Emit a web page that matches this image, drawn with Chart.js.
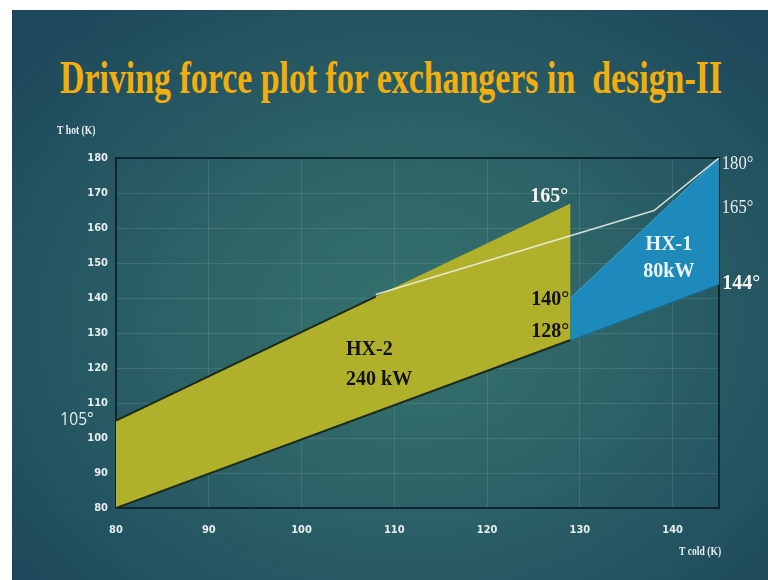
<!DOCTYPE html>
<html>
<head>
<title>Driving force plot for exchangers in design-II</title>
<script src="https://cdn.jsdelivr.net/npm/chart.js"></script>
<style>
  html, body { margin: 0; padding: 0; background: #fff; width: 768px; height: 580px; overflow: hidden; }
  #slide {
    position: absolute; left: 12px; top: 10px; width: 756px; height: 570px;
    background: radial-gradient(ellipse 68% 72% at 52% 55%, #36726d 0%, #2c6267 45%, #1d475b 100%);
  }
  #title {
    position: absolute; left: 60px; top: 55px; white-space: nowrap;
    font-family: 'Liberation Serif', serif; font-weight: bold; font-size: 46px; line-height: 1;
    color: #f2ae0c; transform-origin: left top;
  }
  #chartBox { position: absolute; left: 0; top: 0; width: 768px; height: 580px; }
</style>
</head>
<body>
<div id="slide"></div>
<div id="title">Driving force plot for exchangers in&nbsp; design-II</div>
<div id="chartBox"><canvas id="forcePlot"></canvas></div>

<script>
// values (T cold on x, T hot on y, in K)
const xTicks = [80, 90, 100, 110, 120, 130, 140];
const yTicks = [80, 90, 100, 110, 120, 130, 140, 150, 160, 170, 180];

const hx2Cold = [80, 129];
const hx2HotTop = [105, 167];
const hx2HotBottom = [80, 128];
// dark outline on the hot edge stops where the white line takes over
const hx2EdgeCold = [80, 108];
const hx2EdgeHot = [105, 140.4];

const hx1Cold = [129, 145];
const hx1HotTop = [140, 180];
const hx1HotBottom = [128, 144];

const lineCold = [108, 138, 145];
const lineHot = [141, 165, 180];

// fit the title to the width it takes on the slide
const titleEl = document.getElementById('title');
titleEl.style.transform = 'scaleX(' + (662 / titleEl.offsetWidth) + ')';

const pts = (xs, ys) => xs.map((x, i) => ({ x: x, y: ys[i] }));

const notes = [
  { text: '105°', x: 75.8, y: 105.2, font: '19px "Open Sans"', color: '#e4ecee', sx: 0.82 },
  { text: '165°', x: 126.7, y: 168.9, font: 'bold 20px "Liberation Serif"', color: '#f4f4f0' },
  { text: '140°', x: 126.8, y: 139.4, font: 'bold 20px "Liberation Serif"', color: '#111' },
  { text: '128°', x: 126.8, y: 130.3, font: 'bold 20px "Liberation Serif"', color: '#111' },
  { text: 'HX-2', x: 104.8, y: 125.1, font: 'bold 20px "Liberation Serif"', color: '#111', align: 'left' },
  { text: '240 kW', x: 104.8, y: 116.6, font: 'bold 20px "Liberation Serif"', color: '#111', align: 'left' },
  { text: 'HX-1', x: 139.6, y: 155.1, font: 'bold 20px "Liberation Serif"', color: '#eef4f6' },
  { text: '80kW', x: 139.6, y: 147.4, font: 'bold 20px "Liberation Serif"', color: '#eef4f6' },
  { text: '180°', x: 147.0, y: 178.3, font: '18px "Liberation Serif"', color: '#e8eef0', sx: 0.92 },
  { text: '165°', x: 147.0, y: 165.7, font: '18px "Liberation Serif"', color: '#e8eef0', sx: 0.92 },
  { text: '144°', x: 147.4, y: 144.0, font: 'bold 20px "Liberation Serif"', color: '#f4f4f0' }
];

const slidePlugin = {
  id: 'slide',
  beforeDatasetsDraw(chart) {
    const a = chart.chartArea, ctx = chart.ctx;
    ctx.save();
    ctx.strokeStyle = '#10262e';
    ctx.lineWidth = 2;
    ctx.beginPath();
    ctx.moveTo(a.left, a.top);
    ctx.lineTo(a.right, a.top);
    ctx.lineTo(a.right, a.bottom);
    ctx.stroke();
    ctx.restore();
  },
  afterDatasetsDraw(chart) {
    const ctx = chart.ctx, xs = chart.scales.x, ys = chart.scales.y;
    ctx.save();
    ctx.textBaseline = 'middle';
    notes.forEach(n => {
      ctx.save();
      ctx.font = n.font;
      ctx.fillStyle = n.color;
      ctx.textAlign = n.align || 'center';
      ctx.translate(xs.getPixelForValue(n.x), ys.getPixelForValue(n.y));
      ctx.scale(n.sx || 1, 1);
      ctx.fillText(n.text, 0, 0);
      ctx.restore();
    });
    // axis titles, in a squeezed serif like the slide
    ctx.fillStyle = '#e8eef0';
    ctx.font = 'bold 12px "Liberation Serif"';
    ctx.textAlign = 'left';
    ctx.save();
    ctx.translate(57, 131);
    ctx.scale(0.8, 1);
    ctx.fillText('T hot (K)', 0, 0);
    ctx.restore();
    ctx.save();
    ctx.translate(679, 552);
    ctx.scale(0.8, 1);
    ctx.fillText('T cold (K)', 0, 0);
    ctx.restore();
    ctx.restore();
  }
};

const tickFont = { family: "'Liberation Sans Narrow', 'DejaVu Sans Condensed', 'Liberation Sans', sans-serif", size: 11, weight: 'bold' };

new Chart(document.getElementById('forcePlot'), {
  type: 'scatter',
  data: {
    datasets: [
      {
        label: 'HX-2 hot',
        data: pts(hx2Cold, hx2HotTop),
        showLine: true,
        fill: '+1',
        backgroundColor: '#b1b02b',
        borderColor: 'rgba(0,0,0,0)',
        borderWidth: 0,
        pointRadius: 0,
        order: 3
      },
      {
        label: 'HX-2 cold',
        data: pts(hx2Cold, hx2HotBottom),
        showLine: true,
        fill: false,
        borderColor: '#1a2a1c',
        borderWidth: 2,
        pointRadius: 0,
        order: 2
      },
      {
        label: 'HX-2 edge',
        data: pts(hx2EdgeCold, hx2EdgeHot),
        showLine: true,
        fill: false,
        borderColor: '#1a2a1c',
        borderWidth: 2,
        pointRadius: 0,
        order: 2
      },
      {
        label: 'HX-1 hot',
        data: pts(hx1Cold, hx1HotTop),
        showLine: true,
        fill: '+1',
        backgroundColor: '#1d8abb',
        borderColor: '#3aa6d2',
        borderWidth: 1,
        pointRadius: 0,
        order: 1
      },
      {
        label: 'HX-1 cold',
        data: pts(hx1Cold, hx1HotBottom),
        showLine: true,
        fill: false,
        borderColor: '#156c92',
        borderWidth: 2,
        pointRadius: 0,
        order: 1
      },
      {
        label: 'line',
        data: pts(lineCold, lineHot),
        showLine: true,
        fill: false,
        borderColor: 'rgba(236,244,238,0.85)',
        borderWidth: 1.5,
        pointRadius: 0,
        order: 0
      }
    ]
  },
  options: {
    responsive: true,
    maintainAspectRatio: false,
    animation: false,
    layout: { padding: { left: 0, top: 158, right: 49, bottom: 0 } },
    plugins: { legend: { display: false }, tooltip: { enabled: false } },
    scales: {
      x: {
        type: 'linear',
        min: 80,
        max: 145,
        afterBuildTicks: s => { s.ticks = xTicks.map(v => ({ value: v })); },
        afterFit: s => { s.height = 72; },
        grid: { color: 'rgba(255,255,255,0.1)', drawTicks: false },
        border: { color: '#10262e', width: 2 },
        ticks: { color: '#e6edef', font: tickFont, padding: 16 }
      },
      y: {
        type: 'linear',
        min: 80,
        max: 180,
        afterBuildTicks: s => { s.ticks = yTicks.map(v => ({ value: v })); },
        afterFit: s => { s.width = 116; },
        grid: { color: 'rgba(255,255,255,0.1)', drawTicks: false },
        border: { color: '#10262e', width: 2 },
        ticks: { color: '#e6edef', font: tickFont, padding: 8 }
      }
    }
  },
  plugins: [slidePlugin]
});
</script>
</body>
</html>
